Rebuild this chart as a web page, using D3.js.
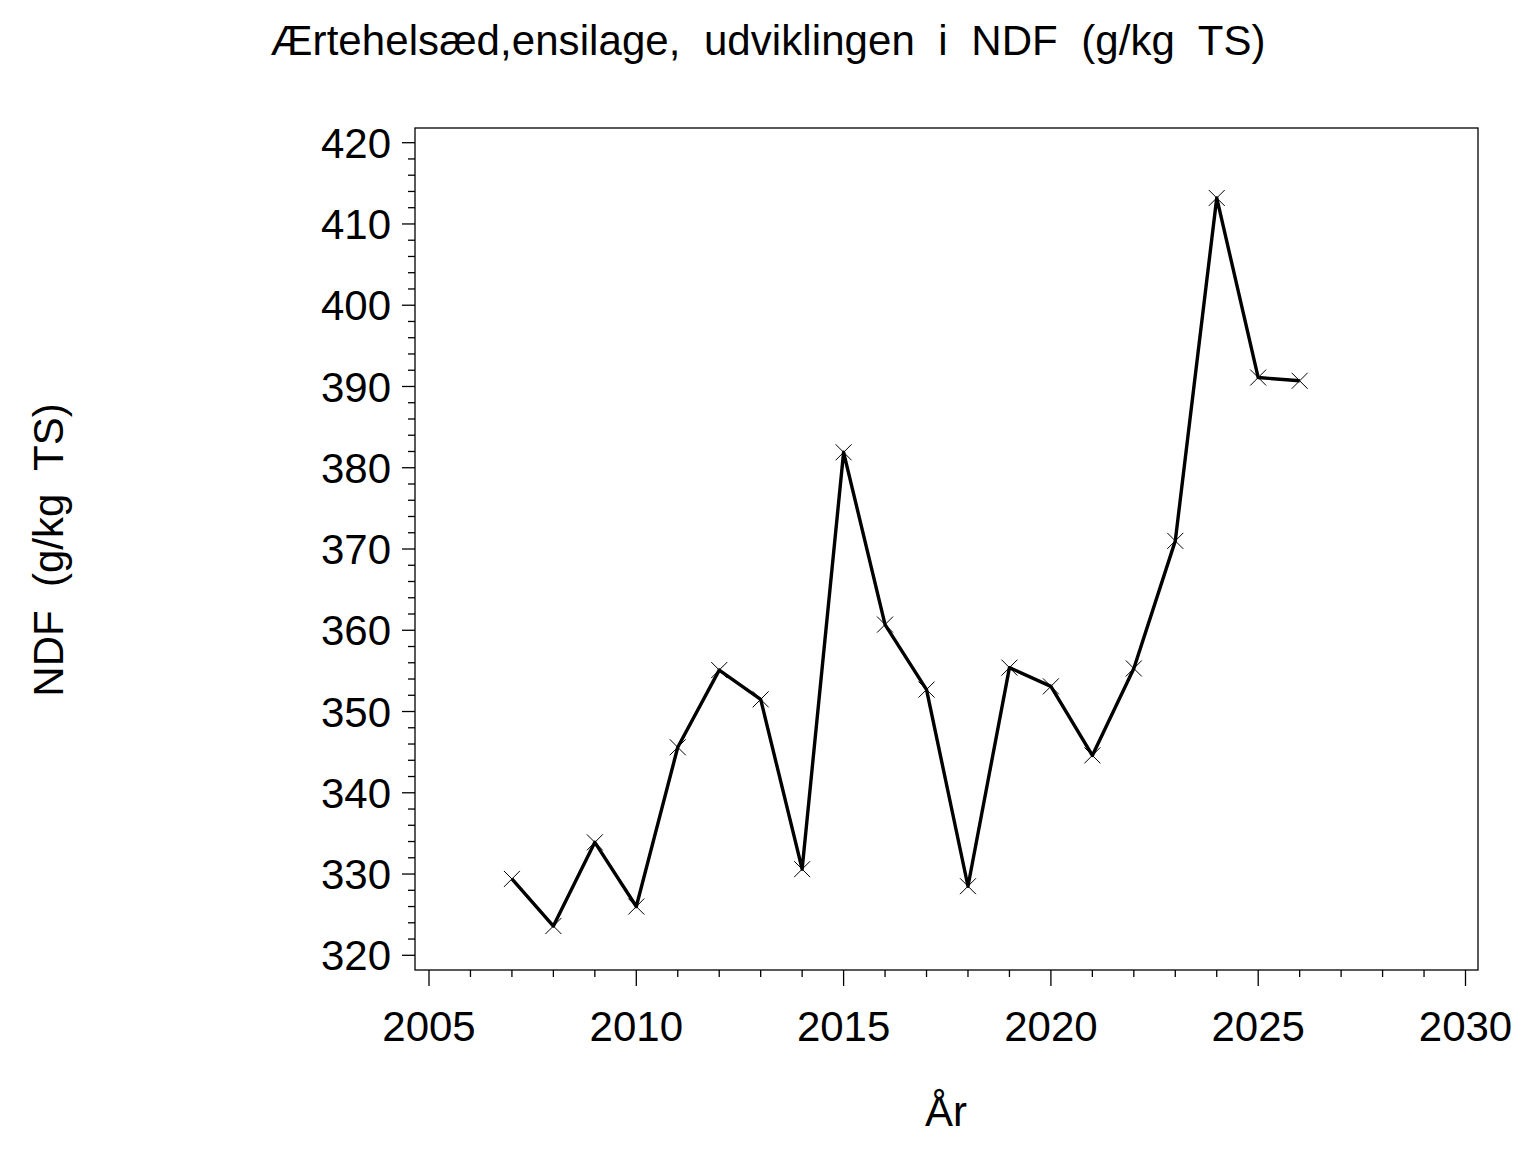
<!DOCTYPE html>
<html>
<head>
<meta charset="utf-8">
<script src="https://cdn.jsdelivr.net/npm/d3@7"></script>
<style>
  body { margin: 0; background: #fff; }
  text { font-family: "Liberation Sans", Arial, sans-serif; fill: #000; }
</style>
</head>
<body>
<svg width="1536" height="1152"></svg>
<script>
// values
const years = [2007, 2008, 2009, 2010, 2011, 2012, 2013, 2014, 2015, 2016,
               2017, 2018, 2019, 2020, 2021, 2022, 2023, 2024, 2025, 2026]
const ndf = [329.4, 323.6, 333.9, 326.0, 345.6, 355.1, 351.5, 330.6, 381.9, 360.7,
             352.7, 328.5, 355.4, 353.1, 344.6, 355.3, 371.0, 413.2, 391.1, 390.7]
const xTicks = [2005, 2010, 2015, 2020, 2025, 2030]
const yTicks = [320, 330, 340, 350, 360, 370, 380, 390, 400, 410, 420]

const svg = d3.select('svg')
const frame = {left: 415, right: 1478, top: 128, bottom: 970}

const x = d3.scaleLinear().domain([2005, 2030]).range([429, 1465.5])
const y = d3.scaleLinear().domain([320, 420]).range([955.3, 142.7])

// frame
svg.append('rect')
    .attr('x', frame.left).attr('y', frame.top)
    .attr('width', frame.right - frame.left).attr('height', frame.bottom - frame.top)
    .attr('fill', 'none').attr('stroke', '#000').attr('stroke-width', 1.3)

// y axis: major every 10, minor every 2
const yAxis = svg.append('g').attr('transform', `translate(${frame.left},0)`)
yAxis.selectAll('line').data(d3.range(320, 420.1, 2))
    .enter().append('line')
    .attr('x1', d => d % 10 === 0 ? -13 : -7).attr('x2', 0)
    .attr('y1', d => y(d)).attr('y2', d => y(d))
    .attr('stroke', '#000').attr('stroke-width', 1.3)
yAxis.selectAll('text').data(yTicks)
    .enter().append('text')
    .attr('x', -24).attr('y', d => y(d)).attr('dy', '0.36em')
    .attr('text-anchor', 'end').attr('font-size', 42)
    .text(d => d)

// x axis: major every 5, minor every 1
const xAxis = svg.append('g').attr('transform', `translate(0,${frame.bottom})`)
xAxis.selectAll('line').data(d3.range(2005, 2030.1, 1))
    .enter().append('line')
    .attr('x1', d => x(d)).attr('x2', d => x(d))
    .attr('y1', 0).attr('y2', d => d % 5 === 0 ? 16 : 7)
    .attr('stroke', '#000').attr('stroke-width', 1.3)
xAxis.selectAll('text').data(xTicks)
    .enter().append('text')
    .attr('x', d => x(d)).attr('y', 71)
    .attr('text-anchor', 'middle').attr('font-size', 42)
    .text(d => d)

// line
const pts = years.map((yr, i) => [yr, ndf[i]])
svg.append('path')
    .datum(pts)
    .attr('fill', 'none').attr('stroke', '#000').attr('stroke-width', 3.4)
    .attr('stroke-linejoin', 'round')
    .attr('d', d3.line().x(d => x(d[0])).y(d => y(d[1])))

// x markers
const s = 8
svg.selectAll('path.mark').data(pts)
    .enter().append('path')
    .attr('class', 'mark')
    .attr('fill', 'none').attr('stroke', '#000').attr('stroke-width', 1)
    .attr('d', d => {
        const cx = x(d[0]), cy = y(d[1])
        return `M${cx - s},${cy - s}L${cx + s},${cy + s}M${cx - s},${cy + s}L${cx + s},${cy - s}`
    })

// titles
svg.append('text')
    .attr('x', 768).attr('y', 55)
    .attr('text-anchor', 'middle').attr('font-size', 42)
    .attr('textLength', 995).attr('lengthAdjust', 'spacing')
    .style('white-space', 'pre')
    .text('Ærtehelsæd,ensilage,  udviklingen  i  NDF  (g/kg  TS)')

svg.append('text')
    .attr('transform', 'translate(63,550) rotate(-90)')
    .attr('text-anchor', 'middle').attr('font-size', 42)
    .style('white-space', 'pre')
    .text('NDF  (g/kg  TS)')

svg.append('text')
    .attr('x', 946).attr('y', 1126)
    .attr('text-anchor', 'middle').attr('font-size', 42)
    .text('År')
</script>
</body>
</html>
